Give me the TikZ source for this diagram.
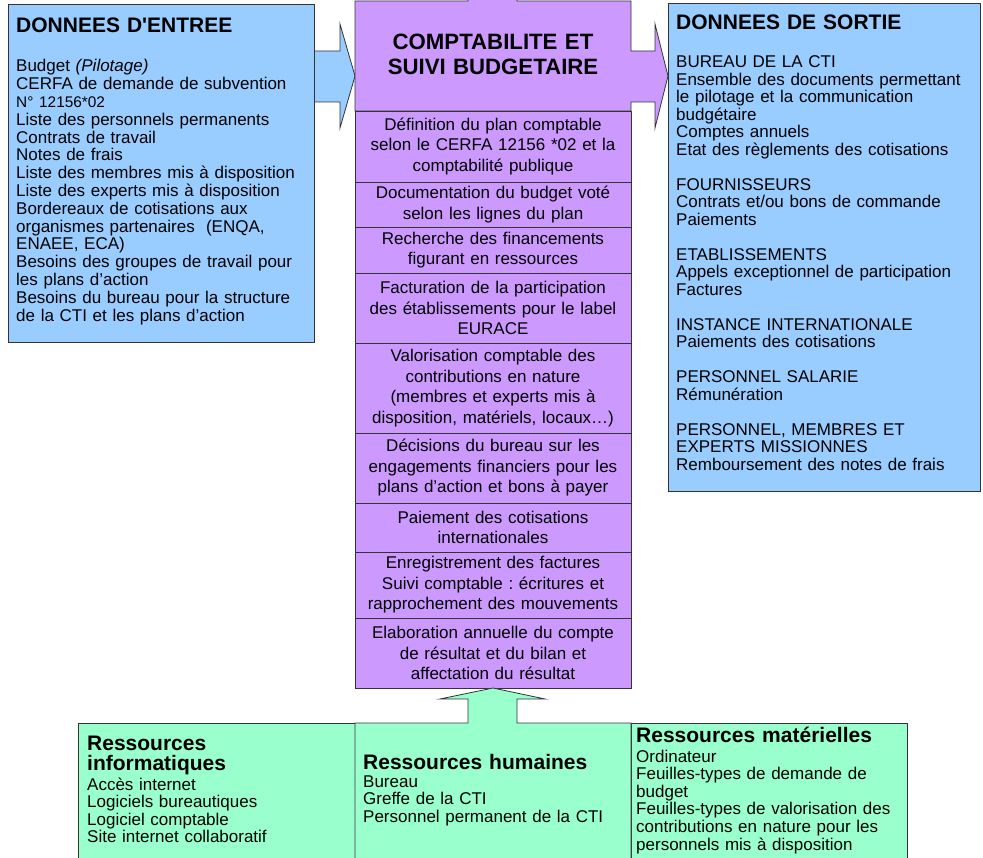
\documentclass[tikz,border=0pt]{standalone}
\usepackage{fontspec}
\setmainfont{Liberation Sans}
\usetikzlibrary{positioning}
\definecolor{inblue}{HTML}{99CCFF}
\definecolor{procpurple}{HTML}{CC99FF}
\definecolor{resgreen}{HTML}{99FFCC}
\definecolor{edgegray}{HTML}{333333}
\tikzstyle{databox}=[rectangle,draw=edgegray,fill=inblue,line width=0.8pt,anchor=north west]
\tikzstyle{resbox}=[rectangle,draw=edgegray,fill=resgreen,line width=0.8pt,anchor=north west]
\tikzstyle{pstep}=[rectangle,draw=edgegray,fill=procpurple,line width=0.8pt,outer sep=0pt,
                  minimum width=276pt,text width=270pt,inner xsep=3pt,inner ysep=0pt,
                  align=center,font=\fontsize{17}{20.5}\selectfont]
\tikzstyle{bodytext}=[anchor=base west,inner sep=0pt,align=left,text width=305pt,
                  font=\fontsize{17}{17.8}\selectfont]
\tikzstyle{titletext}=[anchor=base west,inner sep=0pt,align=left,text width=305pt,
                  font=\bfseries\fontsize{21}{20}\selectfont]
\tikzstyle{blockarrow}=[draw=edgegray,line width=0.8pt]

\begin{document}
\frenchspacing
\begin{tikzpicture}[x=1pt,y=-1pt]
      \useasboundingbox (0,0) rectangle (983,858);

      % donnees d'entree
      \draw[blockarrow,fill=inblue] (314,51) -- (340,51) -- (340,24) -- (355,76) -- (340,128) -- (340,102) -- (314,102);
      \node[databox,minimum width=306pt,minimum height=338pt] (inbox) at (8,4) {};
      \node[titletext] (intitle) at (16,33) {DONNEES D\textquotesingle ENTREE};
      \node[bodytext] (inlist) at (16,72) {Budget \textit{(Pilotage)}\\
        CERFA de demande de subvention\\
        {\fontsize{15.4}{17.8}\selectfont N° 12156*02}\\
        Liste des personnels permanents\\
        Contrats de travail\\
        Notes de frais\\
        Liste des membres mis à disposition\\
        Liste des experts mis à disposition\\
        Bordereaux de cotisations aux\\
        organismes partenaires \ (ENQA,\\
        ENAEE, ECA)\\
        Besoins des groupes de travail pour\\
        les plans d’action\\
        Besoins du bureau pour la structure\\
        de la CTI et les plans d’action};

      % processus
      \draw[blockarrow,fill=procpurple] (468,-3) -- (468,1) -- (355,1) -- (355,111) -- (631,111) -- (631,102)
            -- (655,102) -- (655,128) -- (668,76) -- (655,24) -- (655,51) -- (631,51) -- (631,1) -- (517,1) -- (517,-3);
      \node[anchor=base,inner sep=0pt,text width=270pt,align=center,
            font=\bfseries\fontsize{22.2}{25}\selectfont] (head) at (493,50) {COMPTABILITE ET\\SUIVI BUDGETAIRE};
      \node[pstep,anchor=north west,minimum height=71pt] (s1) at (355,111) {Définition du plan comptable\\selon le CERFA 12156 *02 et la\\comptabilité publique};
      \node[pstep,below=0pt of s1,minimum height=45pt] (s2) {Documentation du budget voté\\selon les lignes du plan};
      \node[pstep,below=0pt of s2,minimum height=46pt] (s3) {Recherche des financements\\figurant en ressources};
      \node[pstep,below=0pt of s3,minimum height=70pt] (s4) {Facturation de la participation\\des établissements pour le label\\EURACE};
      \node[pstep,below=0pt of s4,minimum height=90pt] (s5) {Valorisation comptable des\\contributions en nature\\(membres et experts mis à\\disposition, matériels, locaux…)};
      \node[pstep,below=0pt of s5,minimum height=70pt] (s6) {Décisions du bureau sur les\\engagements financiers pour les\\plans d’action et bons à payer};
      \node[pstep,below=0pt of s6,minimum height=49pt] (s7) {Paiement des cotisations\\internationales};
      \node[pstep,below=0pt of s7,minimum height=66pt] (s8) {Enregistrement des factures\\Suivi comptable : écritures et\\rapprochement des mouvements};
      \node[pstep,below=0pt of s8,minimum height=70pt] (s9) {Elaboration annuelle du compte\\de résultat et du bilan et\\affectation du résultat};

      % donnees de sortie
      \node[databox,minimum width=312pt,minimum height=488pt] (outbox) at (668,3) {};
      \node[titletext] (outtitle) at (676,30) {DONNEES DE SORTIE};
      \node[bodytext,font=\fontsize{17}{17.5}\selectfont] (outlist) at (676,68) {BUREAU DE LA CTI\\
        Ensemble des documents permettant\\
        le pilotage et la communication\\
        budgétaire\\
        Comptes annuels\\
        Etat des règlements des cotisations\\[17.5pt]
        FOURNISSEURS\\
        Contrats et/ou bons de commande\\
        Paiements\\[17.5pt]
        ETABLISSEMENTS\\
        Appels exceptionnel de participation\\
        Factures\\[17.5pt]
        INSTANCE INTERNATIONALE\\
        Paiements des cotisations\\[17.5pt]
        PERSONNEL SALARIE\\
        Rémunération\\[17.5pt]
        PERSONNEL, MEMBRES ET\\
        EXPERTS MISSIONNES\\
        Remboursement des notes de frais};

      % ressources
      \node[resbox,minimum width=277pt,minimum height=140pt] (itres) at (78,723) {};
      \node[resbox,minimum width=276pt,minimum height=140pt] (matres) at (631,723) {};
      \draw[blockarrow,fill=resgreen] (355,863) -- (355,723) -- (468,723) -- (468,699) -- (440,699) -- (493,688)
            -- (545,699) -- (517,699) -- (517,723) -- (631,723) -- (631,863);
      \node[titletext] (ittitle) at (87,750) {Ressources\\informatiques};
      \node[bodytext,font=\fontsize{17}{17.6}\selectfont] (itlist) at (87,790) {Accès internet\\
        Logiciels bureautiques\\
        Logiciel comptable\\
        Site internet collaboratif};
      \node[titletext] (hutitle) at (363,769) {Ressources humaines};
      \node[bodytext,font=\fontsize{17}{17.8}\selectfont] (hulist) at (363,787) {Bureau\\
        Greffe de la CTI\\
        Personnel permanent de la CTI};
      \node[titletext] (mattitle) at (636,742) {Ressources matérielles};
      \node[bodytext,font=\fontsize{17}{17.6}\selectfont] (matlist) at (636,762) {Ordinateur\\
        Feuilles-types de demande de\\
        budget\\
        Feuilles-types de valorisation des\\
        contributions en nature pour les\\
        personnels mis à disposition};
    \end{tikzpicture}
\end{document}
